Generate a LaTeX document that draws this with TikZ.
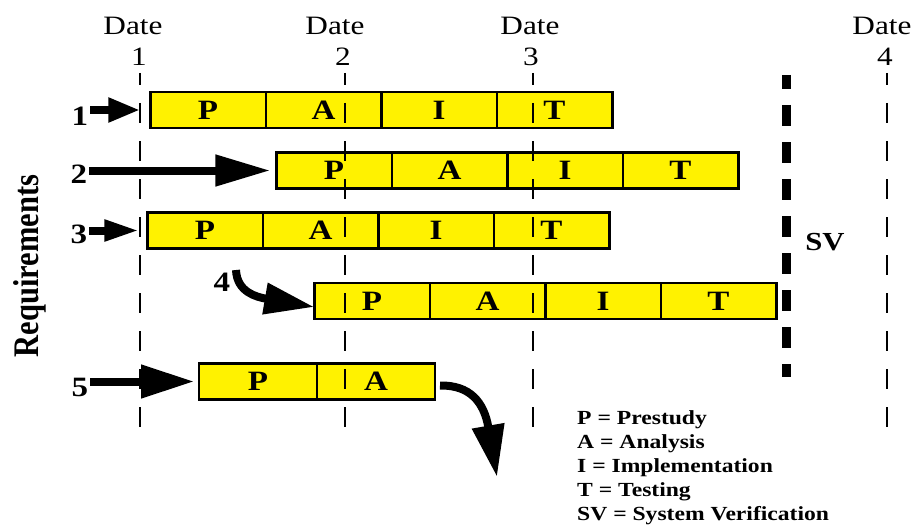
\documentclass[tikz,border=0pt]{standalone}
\usepackage{fontspec}
\setmainfont[FakeStretch=1.18]{Liberation Serif}
\newfontfamily\uprightserif{Liberation Serif}
\usetikzlibrary{arrows.meta,positioning}
\tikzset{
  phase/.style={draw, fill=yellow, line width=2.5pt, minimum width=115.5pt,
    minimum height=36pt, inner sep=0pt, outer sep=0pt,
    font=\fontsize{28pt}{28pt}\selectfont\bfseries},
  widephase/.style={phase, minimum width=118pt},
  rowlbl/.style={inner sep=2pt, font=\fontsize{28pt}{28pt}\selectfont\bfseries},
  datelbl/.style={anchor=base, inner sep=0pt, font=\fontsize{26.5pt}{26.5pt}\selectfont},
  legendtxt/.style={anchor=base west, inner sep=0pt,
    font=\fontsize{20pt}{20pt}\selectfont\bfseries},
  dateline/.style={line width=2pt, dash pattern=on 20pt off 18pt, dash phase=8pt},
  svline/.style={line width=9pt, dash pattern=on 21pt off 16pt, dash phase=7pt},
  fatarrow/.style={line width=8pt},
}
\begin{document}
\begin{tikzpicture}[x=1pt,y=-1pt]
\path[use as bounding box] (0,0) rectangle (911,527);

% date headings
\node[datelbl] (dt1) at (133,35) {Date};
\node[datelbl] (dn1) at (139,66) {1};
\node[datelbl] (dt2) at (335,35) {Date};
\node[datelbl] (dn2) at (343,66) {2};
\node[datelbl] (dt3) at (530,35) {Date};
\node[datelbl] (dn3) at (531,66) {3};
\node[datelbl] (dt4) at (882,35) {Date};
\node[datelbl] (dn4) at (885,66) {4};

% axis title
\node[rotate=90, inner sep=0pt, font=\uprightserif\fontsize{30.5pt}{30.5pt}\selectfont\bfseries]
  (req) at (30,266) {\scalebox{1}[1.18]{Requirements}};

% requirement numbers
\node[rowlbl] (r1) at (80,116.5) {1};
\node[rowlbl] (r2) at (79,174) {2};
\node[rowlbl] (r3) at (79,234) {3};
\node[rowlbl] (r4) at (222,282) {4};
\node[rowlbl] (r5) at (80,387) {5};

% phase bars
\node[phase] (p1) at (208,110) {P};
\node[phase, right=0pt of p1] (a1) {A};
\node[phase, right=0pt of a1] (i1) {I};
\node[phase, right=0pt of i1] (t1) {T};

\node[phase] (p2) at (334,170.5) {P};
\node[phase, right=0pt of p2] (a2) {A};
\node[phase, right=0pt of a2] (i2) {I};
\node[phase, right=0pt of i2] (t2) {T};

\node[phase] (p3) at (205,230.5) {P};
\node[phase, right=0pt of p3] (a3) {A};
\node[phase, right=0pt of a3] (i3) {I};
\node[phase, right=0pt of i3] (t3) {T};

\node[phase] (p4) at (372,301) {P};
\node[phase, right=0pt of p4] (a4) {A};
\node[phase, right=0pt of a4] (i4) {I};
\node[phase, right=0pt of i4] (t4) {T};

\node[widephase] (p5) at (258,381.5) {P};
\node[widephase, right=0pt of p5] (a5) {A};

% start arrows
\draw[fatarrow, -{Triangle[length=32pt,width=23pt]}, shorten >=10pt]
  (r1.east |- p1.west) -- (p1.west);
\draw[fatarrow, -{Triangle[length=55pt,width=30pt]}, shorten >=6pt]
  (r2.east |- p2.west) -- (p2.west);
\draw[fatarrow, -{Triangle[length=35pt,width=20pt]}, shorten >=8pt]
  (r3.east |- p3.west) -- (p3.west);
\draw[fatarrow, -{Triangle[length=53pt,width=32pt]}, shorten >=5pt]
  (r5.east |- p5.west) -- (p5.west);

\coordinate (c4) at (236,270);
\draw[fatarrow, -{Triangle[length=50pt,width=30pt]}]
  (c4) .. controls (237,292) and (256,297) .. ([yshift=-6pt]p4.west);

\coordinate (out5) at (497,477);
\draw[fatarrow, -{Triangle[length=52pt,width=31pt]}]
  ([xshift=5pt,yshift=-4pt]a5.east) .. controls (470,385) and (484,402) .. (out5);

% date lines
\draw[dateline] (140,73) -- (140,432);
\draw[dateline] (345,73) -- (345,432);
\draw[dateline] (533,73) -- (533,432);
\draw[dateline] (887,73) -- (887,432);

% system verification milestone
\draw[svline] (786,75) -- (786,377);
\node[inner sep=0pt, font=\fontsize{26pt}{26pt}\selectfont\bfseries] (sv) at (825,242) {SV};

% legend
\node[legendtxt] (lg1) at (577,424) {P = Prestudy};
\node[legendtxt] (lg2) at (577,448) {A = Analysis};
\node[legendtxt] (lg3) at (577,472) {I = Implementation};
\node[legendtxt] (lg4) at (577,496) {T = Testing};
\node[legendtxt] (lg5) at (577,520) {SV = System Verification};
\end{tikzpicture}
\end{document}
